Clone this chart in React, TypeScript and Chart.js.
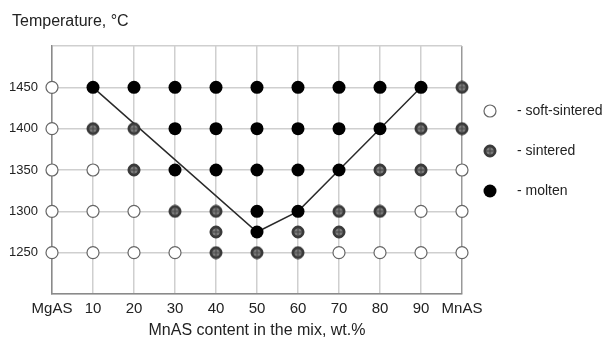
import React, { useEffect, useRef } from 'react';
import { Chart, registerables } from 'chart.js';

Chart.register(...registerables);

// ---- data ----
const compositions = [0, 10, 20, 30, 40, 50, 60, 70, 80, 90, 100];
const xTickLabels = ['MgAS', '10', '20', '30', '40', '50', '60', '70', '80', '90', 'MnAS'];
const temperatures = [1450, 1400, 1350, 1300, 1275, 1250];
const yTickLabels = [1250, 1300, 1350, 1400, 1450];
// O = soft-sintered, N = sintered, M = molten, '' = no sample
const row1450 = ['O', 'M', 'M', 'M', 'M', 'M', 'M', 'M', 'M', 'M', 'N'];
const row1400 = ['O', 'N', 'N', 'M', 'M', 'M', 'M', 'M', 'M', 'N', 'N'];
const row1350 = ['O', 'O', 'N', 'M', 'M', 'M', 'M', 'M', 'N', 'N', 'O'];
const row1300 = ['O', 'O', 'O', 'N', 'N', 'M', 'M', 'N', 'N', 'O', 'O'];
const row1275 = ['', '', '', '', 'N', 'M', 'N', 'N', '', '', ''];
const row1250 = ['O', 'O', 'O', 'O', 'N', 'N', 'N', 'O', 'O', 'O', 'O'];
const stateRows = [row1450, row1400, row1350, row1300, row1275, row1250];
const boundaryX = [10, 50, 60, 70, 80, 90];
const boundaryY = [1450, 1275, 1300, 1350, 1400, 1450];
const legendLabels = ['- soft-sintered', '- sintered', '- molten'];
const yAxisTitle = 'Temperature, °C';
const xAxisTitle = 'MnAS content in the mix, wt.%';

function pointsFor(code: string) {
  const pts: { x: number; y: number }[] = [];
  stateRows.forEach((row, r) => {
    row.forEach((c, i) => {
      if (c === code) pts.push({ x: compositions[i], y: temperatures[r] });
    });
  });
  return pts;
}

function makeSinteredMarker() {
  const c = document.createElement('canvas');
  c.width = 14;
  c.height = 14;
  const g = c.getContext('2d')!;
  g.beginPath();
  g.arc(7, 7, 6, 0, Math.PI * 2);
  g.fillStyle = '#3a3a3a';
  g.fill();
  g.lineWidth = 1;
  g.strokeStyle = '#2e2e2e';
  g.stroke();
  g.beginPath();
  g.arc(7, 7, 3.6, 0, Math.PI * 2);
  g.fillStyle = '#7c7c7c';
  g.fill();
  g.strokeStyle = '#444';
  g.lineWidth = 1;
  g.beginPath();
  g.moveTo(7, 3.5);
  g.lineTo(7, 10.5);
  g.moveTo(3.5, 7);
  g.lineTo(10.5, 7);
  g.stroke();
  return c;
}

export default function App() {
  const ref = useRef<HTMLCanvasElement | null>(null);

  useEffect(() => {
    if (!ref.current) return;
    const sintered = makeSinteredMarker();
    const FONT = "'Liberation Sans', Arial, sans-serif";

    const annotPlugin = {
      id: 'customLegend',
      afterDraw(chart: any) {
        const { ctx, chartArea } = chart;
        ctx.save();
        // y-axis title, top-left
        ctx.fillStyle = '#222';
        ctx.font = `16px ${FONT}`;
        ctx.textBaseline = 'middle';
        ctx.textAlign = 'left';
        ctx.fillText(yAxisTitle, chartArea.left - 40, chartArea.top - 24);

        const x0 = chartArea.right + 28;
        const y0 = chartArea.top + 65;
        legendLabels.forEach((label, i) => {
          const y = y0 + i * 40;
          if (i === 0) {
            ctx.beginPath();
            ctx.arc(x0, y, 6, 0, Math.PI * 2);
            ctx.fillStyle = '#fff';
            ctx.fill();
            ctx.lineWidth = 1.2;
            ctx.strokeStyle = '#666';
            ctx.stroke();
          } else if (i === 1) {
            ctx.drawImage(sintered, x0 - 7, y - 7);
          } else {
            ctx.beginPath();
            ctx.arc(x0, y, 6.5, 0, Math.PI * 2);
            ctx.fillStyle = '#000';
            ctx.fill();
          }
          ctx.fillStyle = '#222';
          ctx.font = `14px ${FONT}`;
          ctx.textBaseline = 'middle';
          ctx.textAlign = 'left';
          ctx.fillText(label, x0 + 27, y);
        });
        ctx.restore();
      },
    };

    const chart = new Chart(ref.current, {
      type: 'scatter',
      data: {
        datasets: [
          {
            type: 'line',
            label: 'boundary',
            data: boundaryX.map((x, i) => ({ x, y: boundaryY[i] })),
            borderColor: '#2a2a2a',
            borderWidth: 1.5,
            pointRadius: 0,
            fill: false,
            tension: 0,
            order: 5,
            clip: false,
          } as any,
          {
            label: 'soft-sintered',
            data: pointsFor('O'),
            pointRadius: 6,
            pointBackgroundColor: '#fff',
            pointBorderColor: '#666',
            pointBorderWidth: 1.2,
            order: 1,
            clip: false,
          } as any,
          {
            label: 'sintered',
            data: pointsFor('N'),
            pointStyle: sintered,
            pointRadius: 6,
            order: 1,
            clip: false,
          } as any,
          {
            label: 'molten',
            data: pointsFor('M'),
            pointRadius: 6.5,
            pointBackgroundColor: '#000',
            pointBorderColor: '#000',
            pointBorderWidth: 0,
            order: 1,
            clip: false,
          } as any,
        ],
      },
      options: {
        responsive: false,
        animation: false,
        layout: { padding: { left: 0, right: 143, top: 46, bottom: 0 } },
        plugins: {
          legend: { display: false },
          tooltip: { enabled: false },
          title: { display: false },
        },
        scales: {
          x: {
            type: 'linear',
            min: 0,
            max: 100,
            afterBuildTicks: (scale: any) => {
              scale.ticks = compositions.map((v) => ({ value: v }));
            },
            afterFit: (scale: any) => {
              scale.height = 46;
            },
            ticks: {
              callback: (v: any) => {
                const i = compositions.indexOf(Number(v));
                return i >= 0 ? xTickLabels[i] : '';
              },
              color: '#222',
              font: { family: FONT, size: 15 },
              padding: 6,
              maxRotation: 0,
              autoSkip: false,
            },
            grid: {
              color: (ctx: any) => (ctx.tick && ctx.tick.value === 100 ? '#999' : '#cfcfcf'),
              lineWidth: 1.5,
              drawTicks: false,
            },
            border: { color: '#8a8a8a', width: 1.5 },
            title: {
              display: true,
              text: xAxisTitle,
              color: '#222',
              font: { family: FONT, size: 16 },
              padding: { top: 0, bottom: 0 },
            },
          },
          y: {
            type: 'linear',
            min: 1200,
            max: 1500,
            afterBuildTicks: (scale: any) => {
              const t = [];
              for (let v = 1200; v <= 1500; v += 50) t.push({ value: v });
              scale.ticks = t;
            },
            afterFit: (scale: any) => {
              scale.width = 52;
            },
            ticks: {
              callback: (v: any) => (yTickLabels.includes(Number(v)) ? String(v) : ''),
              color: '#222',
              font: { family: FONT, size: 13 },
              padding: 14,
            },
            grid: {
              color: '#cfcfcf',
              lineWidth: 1.5,
              drawTicks: false,
            },
            border: { color: '#8a8a8a', width: 1.5 },
          },
        },
      },
      plugins: [annotPlugin],
    } as any);

    return () => chart.destroy();
  }, []);

  return (
    <canvas
      ref={ref}
      width={605}
      height={340}
      style={{ position: 'fixed', left: 0, top: 0, display: 'block', background: '#fff' }}
    />
  );
}
